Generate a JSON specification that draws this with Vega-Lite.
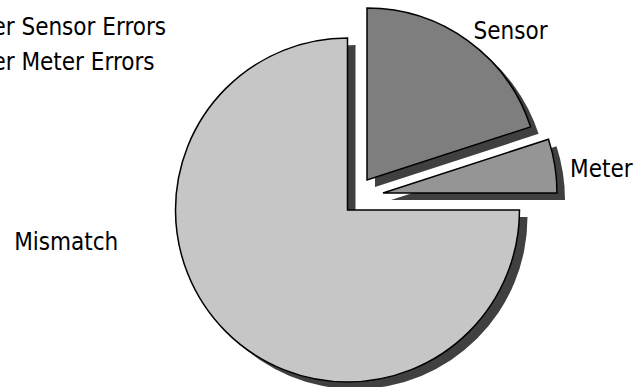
{
  "$schema": "https://vega.github.io/schema/vega-lite/v6.json",
  "width": 639,
  "height": 387,
  "autosize": "none",
  "padding": 0,
  "background": "white",
  "config": {"view": {"stroke": null}, "font": "DejaVu Sans Condensed, Roboto, sans-serif"},
  "data": {"values": [
    {"category": "Sensor", "value": 20},
    {"category": "Meter", "value": 5},
    {"category": "Mismatch", "value": 75}
  ]},
  "transform": [
    {"stack": "value", "groupby": [], "as": ["t0", "t1"]},
    {"calculate": "(datum.t0 + datum.t1) / 2", "as": "mid"}
  ],
  "layer": [
    {
      "transform": [{"filter": "datum.category === 'Mismatch'"}],
      "mark": {"type": "arc", "outerRadius": 172, "xOffset": 36, "yOffset": 23.5, "fill": "#404040"},
      "encoding": {
        "theta": {"field": "t0", "type": "quantitative", "scale": {"domain": [0, 100], "range": [0, 6.283185307]}},
        "theta2": {"field": "t1"}
      }
    },
    {
      "transform": [{"filter": "datum.category === 'Sensor'"}],
      "mark": {"type": "arc", "outerRadius": 172, "xOffset": 55.5, "yOffset": -6.5, "fill": "#404040"},
      "encoding": {
        "theta": {"field": "t0", "type": "quantitative", "scale": {"domain": [0, 100], "range": [0, 6.283185307]}},
        "theta2": {"field": "t1"}
      }
    },
    {
      "transform": [{"filter": "datum.category === 'Meter'"}],
      "mark": {"type": "arc", "outerRadius": 174, "xOffset": 71.5, "yOffset": 6.5, "fill": "#404040"},
      "encoding": {
        "theta": {"field": "t0", "type": "quantitative", "scale": {"domain": [0, 100], "range": [0, 6.283185307]}},
        "theta2": {"field": "t1"}
      }
    },
    {
      "transform": [{"filter": "datum.category === 'Mismatch'"}],
      "mark": {"type": "arc", "outerRadius": 172, "xOffset": 28, "yOffset": 16.5, "stroke": "black", "strokeWidth": 1.5},
      "encoding": {
        "theta": {"field": "t0", "type": "quantitative", "scale": {"domain": [0, 100], "range": [0, 6.283185307]}},
        "theta2": {"field": "t1"},
        "fill": {
          "field": "category", "type": "nominal",
          "scale": {"domain": ["Sensor", "Meter", "Mismatch"], "range": ["#7e7e7e", "#959595", "#c6c6c6"]},
          "legend": {
            "orient": "none", "legendX": -87, "legendY": 16, "padding": 0,
            "values": ["Sensor", "Meter"],
            "labelExpr": "'Larger ' + datum.label + ' Errors'",
            "title": null, "labelFontSize": 24, "labelFont": "DejaVu Sans Condensed, Roboto, sans-serif", "labelColor": "black",
            "labelLimit": 0, "symbolType": "square", "symbolSize": 400, "rowPadding": 11, "labelOffset": 8,
            "symbolStrokeColor": "black", "symbolStrokeWidth": 1
          }
        }
      }
    },
    {
      "transform": [{"filter": "datum.category === 'Sensor'"}],
      "mark": {"type": "arc", "outerRadius": 172, "xOffset": 47.5, "yOffset": -13.5, "stroke": "black", "strokeWidth": 1.5},
      "encoding": {
        "theta": {"field": "t0", "type": "quantitative", "scale": {"domain": [0, 100], "range": [0, 6.283185307]}},
        "theta2": {"field": "t1"},
        "fill": {"field": "category", "type": "nominal"}
      }
    },
    {
      "transform": [{"filter": "datum.category === 'Meter'"}],
      "mark": {"type": "arc", "outerRadius": 174, "xOffset": 63.5, "yOffset": -0.5, "stroke": "black", "strokeWidth": 1.5},
      "encoding": {
        "theta": {"field": "t0", "type": "quantitative", "scale": {"domain": [0, 100], "range": [0, 6.283185307]}},
        "theta2": {"field": "t1"},
        "fill": {"field": "category", "type": "nominal"}
      }
    },
    {
      "transform": [{"filter": "datum.category === 'Sensor'"}],
      "mark": {"type": "text", "radius": 195, "xOffset": 47.5, "yOffset": -13.5, "dx": 29, "dy": 10, "fontSize": 24, "color": "black", "align": "center", "baseline": "middle"},
      "encoding": {
        "theta": {"field": "mid", "type": "quantitative", "scale": {"domain": [0, 100], "range": [0, 6.283185307]}},
        "text": {"field": "category"}
      }
    },
    {
      "transform": [{"filter": "datum.category === 'Meter'"}],
      "mark": {"type": "text", "radius": 215, "xOffset": 63.5, "yOffset": -0.5, "dx": 6, "dy": 11, "fontSize": 24, "color": "black", "align": "center", "baseline": "middle"},
      "encoding": {
        "theta": {"field": "mid", "type": "quantitative", "scale": {"domain": [0, 100], "range": [0, 6.283185307]}},
        "text": {"field": "category"}
      }
    },
    {
      "transform": [{"filter": "datum.category === 'Mismatch'"}],
      "mark": {"type": "text", "radius": 180, "xOffset": 28, "yOffset": 16.5, "dx": -154, "dy": -94, "fontSize": 24, "color": "black", "align": "center", "baseline": "middle"},
      "encoding": {
        "theta": {"field": "mid", "type": "quantitative", "scale": {"domain": [0, 100], "range": [0, 6.283185307]}},
        "text": {"field": "category"}
      }
    }
  ]
}
